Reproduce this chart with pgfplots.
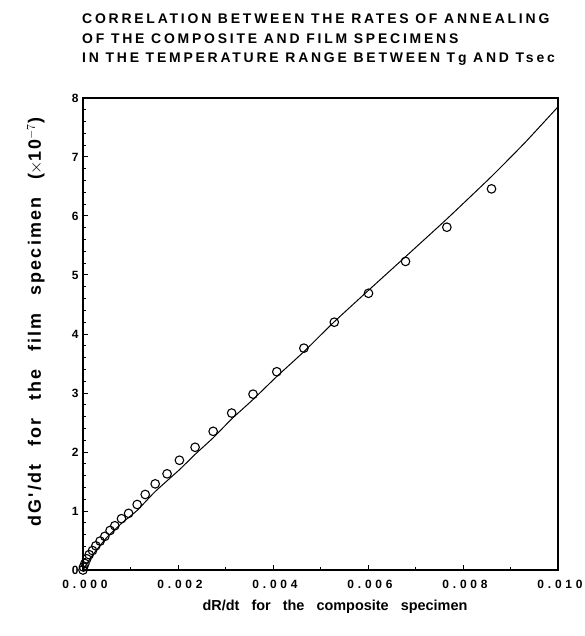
\documentclass[border=0pt]{standalone}
\usepackage{fontspec}
\setmainfont{Liberation Sans}
\newfontfamily\tickfont{Liberation Sans}[LetterSpace=32]
\newfontfamily\xlabelfont{Liberation Sans}[WordSpace=3]
\newfontfamily\ylabelfont{Liberation Sans}[LetterSpace=12, WordSpace=2.5]
\newfontfamily\titlefont{Liberation Sans}[LetterSpace=20]
\usepackage{pgfplots}
\pgfplotsset{compat=1.18}

% Measured rates: composite (dR/dt) against film (dG'/dt, x 1e-7)
\pgfplotstableread{
x        y
0.00000  0.00
0.00001  0.05
0.00004  0.11
0.00008  0.19
0.00013  0.26
0.00020  0.33
0.00027  0.41
0.00036  0.49
0.00046  0.57
0.00057  0.67
0.00067  0.75
0.00081  0.87
0.00096  0.96
0.00114  1.11
0.00131  1.28
0.00152  1.46
0.00177  1.63
0.00203  1.86
0.00236  2.08
0.00274  2.35
0.00313  2.66
0.00358  2.98
0.00408  3.36
0.00465  3.76
0.00529  4.20
0.00601  4.69
0.00679  5.23
0.00766  5.81
0.00860  6.46
}\measured

% Correlation curve
\pgfplotstableread{
x        y
0.00000  0.00
0.00020  0.25
0.00050  0.55
0.00081  0.79
0.00114  1.01
0.00152  1.33
0.00203  1.70
0.00236  1.96
0.00274  2.24
0.00313  2.56
0.00358  2.89
0.00408  3.28
0.00465  3.70
0.00528  4.20
0.00601  4.74
0.00679  5.31
0.00766  5.95
0.00860  6.67
0.00930  7.24
0.01000  7.85
}\curve

\begin{document}
\begin{tikzpicture}
\useasboundingbox (-83bp,-66bp) rectangle (502bp,570bp);
\begin{axis}[
  scale only axis,
  width=475bp, height=472bp,
  xmin=0, xmax=0.010, ymin=0, ymax=8,
  clip=false,
  axis line style={line width=1.2pt},
  xtick={0,0.002,...,0.0101},
  minor xtick={0.001,0.003,...,0.0095},
  ytick={0,1,...,8},
  minor y tick num=4,
  xtick pos=left, ytick pos=left,
  x tick style={line width=1pt, black},
  y tick style={line width=1pt, black},
  tick align=inside,
  major tick length=5bp, minor tick length=3bp,
  scaled x ticks=false,
  /pgf/number format/assume math mode=true,
  xticklabel style={/pgf/number format/fixed, /pgf/number format/fixed zerofill, /pgf/number format/precision=3, font=\tickfont\bfseries\fontsize{12}{14}\selectfont, yshift=-7bp, xshift=2bp},
  yticklabel style={font=\tickfont\bfseries\fontsize{12}{14}\selectfont, xshift=-1bp},
]
\addplot[black, line width=1pt, smooth, tension=0.3] table[x=x, y=y] {\curve};
\addplot[only marks, mark=o, mark size=4.3bp, mark options={line width=1.1pt, black}] table[x=x, y=y] {\measured};
\end{axis}
\node[anchor=base, inner sep=0pt, font=\xlabelfont\bfseries\fontsize{14.5}{16}\selectfont]
  at (252bp,-40bp) {dR/dt for the composite specimen};
\node[anchor=base, rotate=90, inner sep=0pt, font=\ylabelfont\bfseries\fontsize{18}{20}\selectfont]
  at (-42bp,248bp) {dG'/dt for the film specimen (\kern-1pt$\times$10$^{-7}$)};
\node[anchor=north west, align=left, inner sep=0pt, font=\titlefont\bfseries\fontsize{14}{19.5}\selectfont]
  at (-1bp,556bp) {CORRELATION BETWEEN THE RATES OF ANNEALING\\OF THE COMPOSITE AND FILM SPECIMENS\\IN THE TEMPERATURE RANGE BETWEEN Tg AND Tsec};
\end{tikzpicture}
\end{document}
